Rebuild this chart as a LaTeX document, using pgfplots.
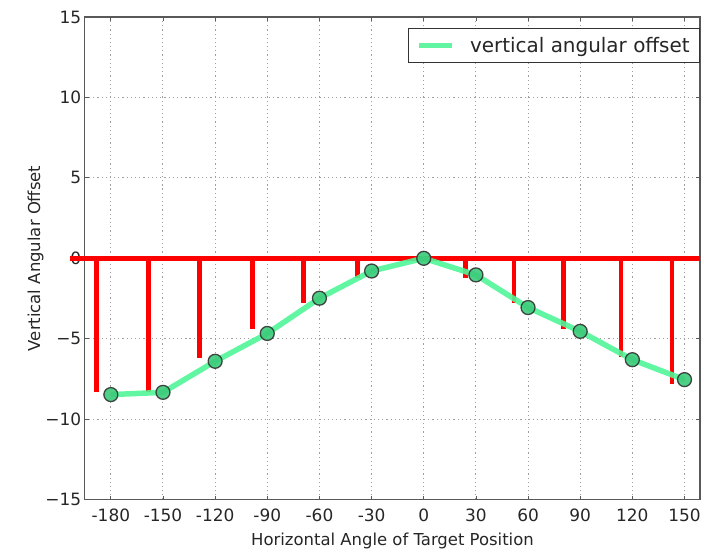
\documentclass[border=0pt]{standalone}
\usepackage{pgfplots}
\pgfplotsset{compat=1.18}
\usepackage{fontspec}
\setmainfont{DejaVu Sans}
\definecolor{mgreen}{HTML}{50F597}
\definecolor{mgreendark}{HTML}{3CCB7A}
\begin{document}
\begin{tikzpicture}
\begin{axis}[
 scale only axis, width=617pt, height=484pt,
 xmin=-195, xmax=159, ymin=-15, ymax=15,
 xtick={-180,-150,...,150},
 xticklabels={-180,-150,-120,-90,-60,-30,0,30,60,90,120,150},
 ytick={-15,-10,...,15},
 yticklabels={−15,−10,−5,0,5,10,15},
 grid=major, major grid style={gray!75, dash pattern=on 1.2pt off 3pt, line width=1pt},
 tick align=inside, major tick length=4pt,
 axis line style={black!65, line width=1.3pt},
 tick style={black!65, line width=0.8pt},
 ticklabel style={font=\fontsize{17}{20}\selectfont, text=black!85},
 xticklabel style={yshift=-6pt},
 xlabel={Horizontal Angle of Target Position},
 ylabel={Vertical Angular Offset},
 label style={font=\fontsize{16.5}{20}\selectfont, text=black!85},
 ylabel style={yshift=-5pt},
 xlabel style={yshift=-4pt},
 clip=false,
 legend style={at={(rel axis cs:1,0.977)}, anchor=north east,
   font=\fontsize{20}{24}\selectfont, draw=black!80, line width=1pt,
   inner xsep=8pt, inner ysep=6.5pt, text=black!85},
 legend cell align=left,
 legend image code/.code={\draw[mgreen, line width=5pt] (0pt,0pt) -- (33pt,0pt); \path (46pt,0pt);},
]
\addplot[red, line width=4.8pt, forget plot] coordinates {(-203.6,0) (159,0)};
\addplot[red, line width=4.8pt, ycomb, forget plot] coordinates {
(-188.2,-8.33) (-158.2,-8.33) (-129,-6.2) (-98.7,-4.4) (-69.2,-2.75) (-38.2,-1.2)
(24.2,-1.2) (51.9,-2.75) (80.2,-4.4) (113.5,-6.16) (142.8,-7.8)};
\addplot[mgreen, opacity=0.9, line width=5.5pt, mark=*, mark size=7pt,
  mark options={fill=mgreendark, draw=black!80, line width=1.3pt}] coordinates {
(-180,-8.47) (-150,-8.33) (-120,-6.40) (-90,-4.67) (-60,-2.48) (-30,-0.79)
(0,0) (30,-1.03) (60,-3.06) (90,-4.54) (120,-6.30) (150,-7.54)};
\addlegendentry{vertical angular offset}
\end{axis}
\path (current axis.south west) ++(-85pt,-50pt);
\path (current axis.north east) ++(1pt,17pt);
\end{tikzpicture}
\end{document}
